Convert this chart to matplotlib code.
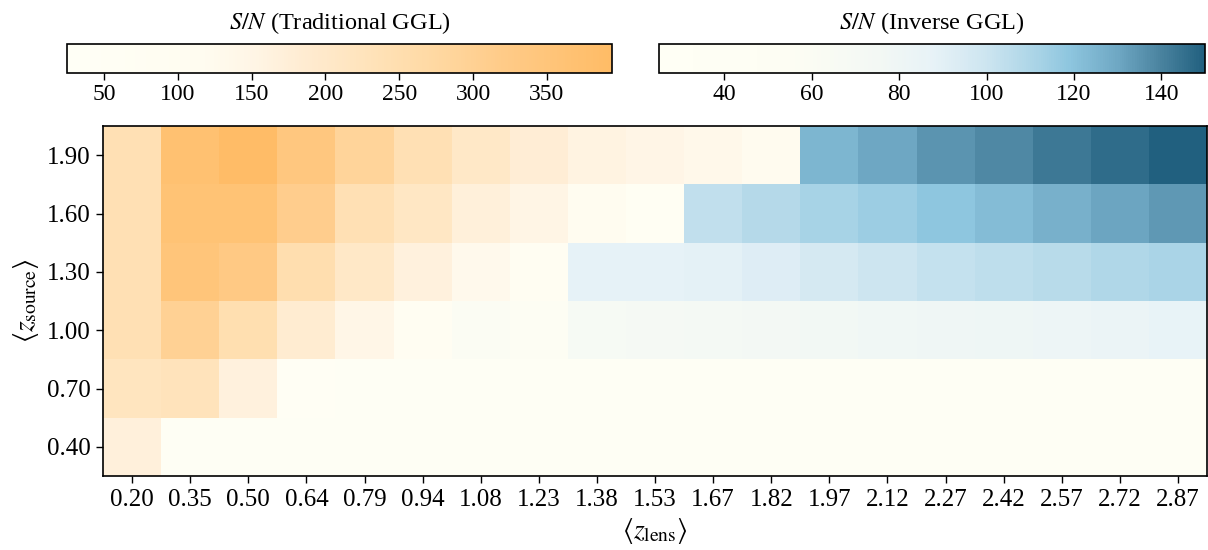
import numpy as np
import matplotlib
matplotlib.use("Agg")
import matplotlib.pyplot as plt
from matplotlib.colors import LinearSegmentedColormap, Normalize

plt.rcParams['font.family'] = ['Liberation Serif', 'DejaVu Serif']
plt.rcParams['mathtext.fontset'] = 'stix'

lens_z = [0.20, 0.35, 0.50, 0.64, 0.79, 0.94, 1.08, 1.23, 1.38, 1.53,
          1.67, 1.82, 1.97, 2.12, 2.27, 2.42, 2.57, 2.72, 2.87]
source_z = [0.40, 0.70, 1.00, 1.30, 1.60, 1.90]
lens_labels = [f"{v:.2f}" for v in lens_z]
source_labels = [f"{v:.2f}" for v in source_z]

n = np.nan
# Traditional GGL S/N (rows: source 0.40 -> 1.90)
trad_sn = [
    [170] + [n] * 18,
    [220, 228, 165, 60] + [n] * 15,
    [240, 300, 248, 185, 145, 90] + [n] * 13,
    [240, 350, 330, 250, 205, 165, 130, 80] + [n] * 11,
    [240, 362, 362, 312, 240, 210, 172, 152, 118, 70] + [n] * 9,
    [240, 370, 392, 340, 290, 240, 205, 180, 160, 150, 135, 120] + [n] * 7,
]
# Inverse GGL S/N
inv_sn = [
    [n] + [35] * 18,
    [n] * 4 + [40] * 15,
    [n] * 6 + [60, 55, 68, 70, 72, 74, 76, 78, 79, 80, 82, 84, 87],
    [n] * 8 + [88, 88, 89, 92, 96, 100, 103, 105, 107, 109, 111],
    [n] * 10 + [104, 108, 112, 115, 119, 122.5, 127, 130.5, 134],
    [n] * 12 + [125, 130, 135, 138.5, 143, 146.5, 150],
]

trad_min, trad_max = 25, 394
inv_min, inv_max = 25, 150

def make_cmap(name, nodes, vmin, vmax):
    pts = [((v - vmin) / (vmax - vmin), c) for v, c in nodes]
    return LinearSegmentedColormap.from_list(name, pts)

orange = make_cmap("orange", [(25, "#FFFFF6"), (116, "#FFFCF0"), (152, "#FFF5E5"),
                              (188, "#FFEBD0"), (224, "#FFE4BD"), (273, "#FFD9A3"),
                              (321, "#FFCB88"), (394, "#FFBC66")], trad_min, trad_max)
blue = make_cmap("blue", [(25, "#FFFFF5"), (55, "#FDFDF3"), (75, "#F3F8F4"),
                          (88, "#E7F2F7"), (100, "#CDE5F0"), (112, "#A8D3E6"),
                          (119, "#8EC6DF"), (130, "#6FA8C4"), (140, "#4A839F"),
                          (150, "#21607F")], inv_min, inv_max)

fig = plt.figure(figsize=(12.08, 5.5), dpi=100)
ax = fig.add_axes([0.0853, 0.1345, 0.9139, 0.6364])

T = np.ma.masked_invalid(np.array(trad_sn, dtype=float))
I = np.ma.masked_invalid(np.array(inv_sn, dtype=float))
xe = np.arange(len(lens_z) + 1)
ye = np.arange(len(source_z) + 1)
m1 = ax.pcolormesh(xe, ye, T, cmap=orange, norm=Normalize(trad_min, trad_max),
                   linewidth=0, antialiased=False)
m2 = ax.pcolormesh(xe, ye, I, cmap=blue, norm=Normalize(inv_min, inv_max),
                   linewidth=0, antialiased=False)

ax.set_xticks(np.arange(len(lens_z)) + 0.5)
ax.set_xticklabels(lens_labels)
ax.set_yticks(np.arange(len(source_z)) + 0.5)
ax.set_yticklabels(source_labels)
ax.tick_params(labelsize=18, length=5, width=1, direction='out', pad=4)
for s in ax.spines.values():
    s.set_linewidth(1.2)
ax.set_xlabel(r'$\langle z_{\rm lens}\rangle$', fontsize=20, labelpad=4)
ax.set_ylabel(r'$\langle z_{\rm source}\rangle$', fontsize=20, labelpad=4)

cax1 = fig.add_axes([0.0555, 0.867, 0.451, 0.0527])
cax2 = fig.add_axes([0.5455, 0.867, 0.452, 0.0527])
cb1 = fig.colorbar(m1, cax=cax1, orientation='horizontal')
cb2 = fig.colorbar(m2, cax=cax2, orientation='horizontal')
cb1.set_ticks([50, 100, 150, 200, 250, 300, 350])
cb2.set_ticks([40, 60, 80, 100, 120, 140])
for cb in (cb1, cb2):
    cb.ax.tick_params(labelsize=17, length=5, width=1, pad=3)
    cb.outline.set_linewidth(1.2)
    cb.ax.xaxis.set_ticks_position('bottom')
cax1.set_title(r'$S/N$ (Traditional GGL)', fontsize=17.5, pad=11)
cax2.set_title(r'$S/N$ (Inverse GGL)', fontsize=17.5, pad=11)

fig.savefig("out.png", dpi=100)
